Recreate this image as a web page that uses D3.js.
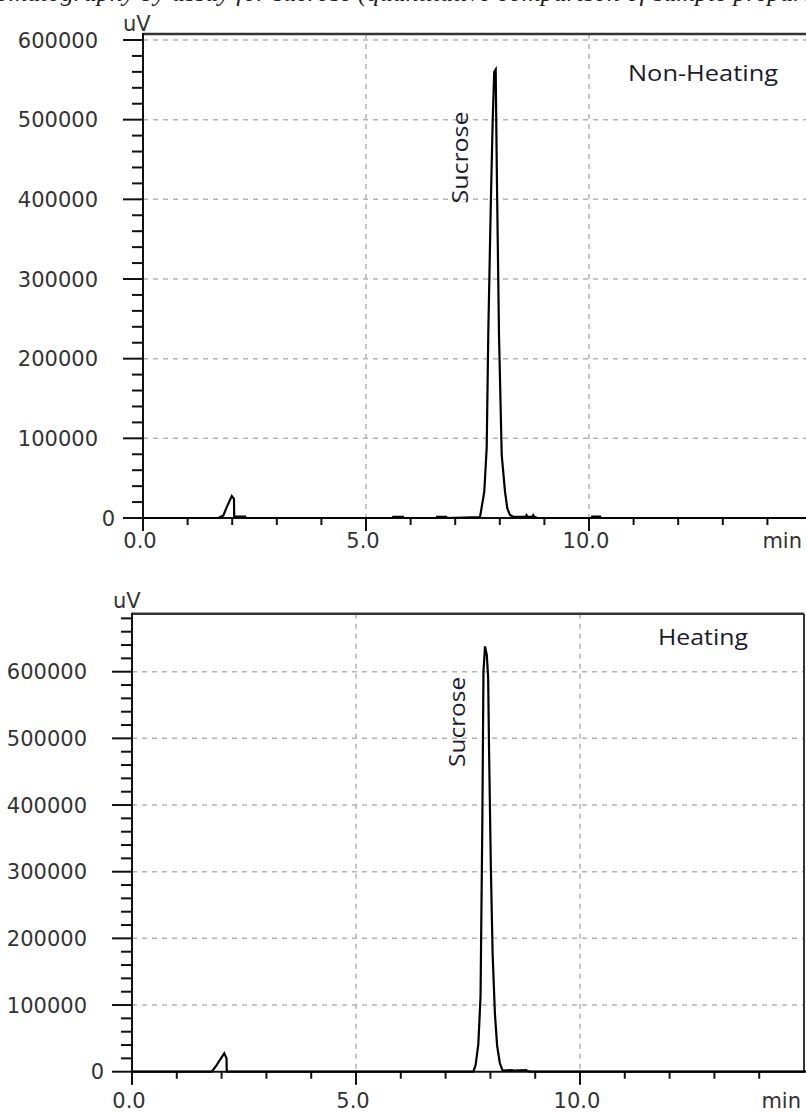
<!DOCTYPE html>
<html>
<head>
<meta charset="utf-8">
<script src="https://cdn.jsdelivr.net/npm/d3@7"></script>
<style>
  body { margin: 0; background: #fff; }
  svg { display: block; }
</style>
</head>
<body>
<div id="chart"></div>
<script>
//Axis ticks and labels
var xMajorTicks = [0, 5, 10];
var xTickLabels = ["0.0", "5.0", "10.0"];
var xMinorTicks = [1, 2, 3, 4, 6, 7, 8, 9, 11, 12, 13, 14];
var yMajorTicks = [0, 100000, 200000, 300000, 400000, 500000, 600000];
var yTickLabels = ["0", "100000", "200000", "300000", "400000", "500000", "600000"];
var yMinorStep = 20000;

//Non-heating chromatogram (time in min, signal in uV)
var nonHeatingTime = [0, 1.69, 1.80, 1.88, 1.99, 2.04, 2.045, 2.29, 2.30,
  5.60, 5.61, 5.83, 5.84, 6.58, 6.59, 6.80, 6.81,
  7.556, 7.652, 7.706, 7.742, 7.796, 7.841, 7.875, 7.908, 7.915, 7.937, 7.982,
  8.043, 8.117, 8.168, 8.229, 8.30, 8.58, 8.60, 8.62, 8.73, 8.75, 8.77, 8.85,
  10.06, 10.07, 10.25, 10.26, 15.2];
var nonHeatingSignal = [0, 0, 3000, 14000, 27600, 24000, 1800, 1800, 0,
  0, 1500, 1500, 0, 0, 1500, 1500, 0,
  1000, 33000, 88000, 232000, 388000, 500000, 560000, 563000, 525000, 418000, 230000,
  79000, 33000, 12000, 3700, 1500, 1500, 3500, 1500, 1500, 3500, 1500, 0,
  0, 1800, 1800, 0, 0];

//Heating chromatogram (time in min, signal in uV)
var heatingTime = [0, 1.78, 1.89, 1.96, 2.06, 2.11, 2.115,
  7.62, 7.67, 7.73, 7.78, 7.82, 7.845, 7.88, 7.92, 7.95, 7.97, 8.01, 8.05, 8.10,
  8.15, 8.21, 8.27, 8.30, 8.49, 8.51, 8.80, 8.82, 8.90, 15.2];
var heatingSignal = [0, 0, 10000, 17500, 27600, 20000, 0,
  0, 10000, 41000, 113000, 375000, 600000, 638000, 625000, 590000, 483000, 307000, 176000, 88000,
  39000, 13000, 2000, 1500, 2500, 1500, 2500, 1000, 0, 0];

//Panel layout
var panels = [
  {time: nonHeatingTime, signal: nonHeatingSignal, title: "Non-Heating",
   left: 143, right: 812, zero: 518, top600: 40, frameTop: 607500, labelY: 548,
   titleX: 628, titleY: 81, titleLen: 150, sucroseT: 7.29, sucroseV: 452500, sucroseLen: 92,
   uvX: 123, uvY: 31, minX: 802, frameRight: false},
  {time: heatingTime, signal: heatingSignal, title: "Heating",
   left: 132, right: 804, zero: 1071.7, top600: 671.7, frameTop: 687000, labelY: 1108,
   titleX: 658, titleY: 645, titleLen: 90, sucroseT: 7.43, sucroseV: 524700, sucroseLen: 90,
   uvX: 113, uvY: 608, minX: 801, frameRight: true}
];

var w = 806;
var h = 1112;

var svg = d3.select("#chart")
  .append("svg")
  .attr("width", w)
  .attr("height", h);

//Cropped caption line from the page above, only its lower edge shows
svg.append("text")
  .attr("x", -38)
  .attr("y", 1)
  .attr("font-family", "Liberation Serif")
  .attr("font-style", "italic")
  .attr("font-size", 26)
  .attr("fill", "#222")
  .text("chromatography by assay for sucrose (quantitative comparison of sample preparation, respectively),");

var axisFont = "DejaVu Sans";
var labelFont = "Open Sans";

panels.forEach(function(p) {
  var x = d3.scaleLinear().domain([0, 15]).range([p.left, p.right]);
  var y = d3.scaleLinear().domain([0, 600000]).range([p.zero, p.top600]);
  var g = svg.append("g");
  var topY = y(p.frameTop);

  //Grid
  g.selectAll(".hgrid")
    .data(yMajorTicks.slice(1))
    .enter()
    .append("line")
    .attr("x1", p.left).attr("x2", p.right)
    .attr("y1", function(d) { return y(d); })
    .attr("y2", function(d) { return y(d); })
    .attr("stroke", "#b4b4b4")
    .attr("stroke-width", 1.5)
    .attr("stroke-dasharray", "5,5");

  g.selectAll(".vgrid")
    .data([5, 10])
    .enter()
    .append("line")
    .attr("x1", function(d) { return x(d); })
    .attr("x2", function(d) { return x(d); })
    .attr("y1", topY).attr("y2", p.zero)
    .attr("stroke", "#b4b4b4")
    .attr("stroke-width", 1.5)
    .attr("stroke-dasharray", "5,5");

  //Frame
  g.append("line")
    .attr("x1", p.left).attr("x2", p.right)
    .attr("y1", topY).attr("y2", topY)
    .attr("stroke", "#333").attr("stroke-width", 2.5);
  if (p.frameRight) {
    g.append("line")
      .attr("x1", p.right).attr("x2", p.right)
      .attr("y1", topY).attr("y2", p.zero)
      .attr("stroke", "#333").attr("stroke-width", 2);
  }

  //Y axis with minor ticks
  g.append("line")
    .attr("x1", p.left).attr("x2", p.left)
    .attr("y1", topY - 1).attr("y2", p.zero + 13)
    .attr("stroke", "#111").attr("stroke-width", 2);

  var minorY = d3.range(0, p.frameTop, yMinorStep).filter(function(d) {
    return yMajorTicks.indexOf(d) < 0;
  });
  g.selectAll(".yminor")
    .data(minorY)
    .enter()
    .append("line")
    .attr("x1", p.left - 11).attr("x2", p.left)
    .attr("y1", function(d) { return y(d); })
    .attr("y2", function(d) { return y(d); })
    .attr("stroke", "#111").attr("stroke-width", 2);

  g.selectAll(".ymajor")
    .data(yMajorTicks)
    .enter()
    .append("line")
    .attr("x1", p.left - 20).attr("x2", p.left)
    .attr("y1", function(d) { return y(d); })
    .attr("y2", function(d) { return y(d); })
    .attr("stroke", "#111").attr("stroke-width", 2);

  g.selectAll(".ylabel")
    .data(yMajorTicks)
    .enter()
    .append("text")
    .attr("x", function(d) { return d == 0 ? p.left - 28 : p.left - 45; })
    .attr("y", function(d) { return y(d); })
    .attr("dy", "0.36em")
    .attr("text-anchor", "end")
    .attr("font-family", axisFont)
    .attr("font-size", 21)
    .attr("fill", "#333")
    .text(function(d, i) { return yTickLabels[i]; });

  //X axis
  g.append("line")
    .attr("x1", p.left).attr("x2", p.right)
    .attr("y1", p.zero).attr("y2", p.zero)
    .attr("stroke", "#111").attr("stroke-width", 2);

  g.selectAll(".xminor")
    .data(xMinorTicks)
    .enter()
    .append("line")
    .attr("x1", function(d) { return x(d); })
    .attr("x2", function(d) { return x(d); })
    .attr("y1", p.zero).attr("y2", p.zero + 7)
    .attr("stroke", "#111").attr("stroke-width", 2);

  g.selectAll(".xmajor")
    .data(xMajorTicks)
    .enter()
    .append("line")
    .attr("x1", function(d) { return x(d); })
    .attr("x2", function(d) { return x(d); })
    .attr("y1", p.zero).attr("y2", p.zero + 13)
    .attr("stroke", "#111").attr("stroke-width", 2);

  g.selectAll(".xlabel")
    .data(xMajorTicks)
    .enter()
    .append("text")
    .attr("x", function(d) { return x(d) - 3; })
    .attr("y", p.labelY)
    .attr("text-anchor", "middle")
    .attr("font-family", axisFont)
    .attr("font-size", 21)
    .attr("fill", "#333")
    .text(function(d, i) { return xTickLabels[i]; });

  g.append("text")
    .attr("x", p.minX)
    .attr("y", p.labelY)
    .attr("text-anchor", "end")
    .attr("font-family", axisFont)
    .attr("font-size", 21)
    .attr("fill", "#333")
    .text("min");

  g.append("text")
    .attr("x", p.uvX)
    .attr("y", p.uvY)
    .attr("font-family", axisFont)
    .attr("font-size", 21)
    .attr("fill", "#333")
    .text("uV");

  //Trace
  var pts = p.time.map(function(t, i) { return [t, p.signal[i]]; });
  var line = d3.line()
    .x(function(d) { return x(d[0]); })
    .y(function(d) { return y(d[1]); });
  g.append("path")
    .datum(pts)
    .attr("d", line)
    .attr("fill", "none")
    .attr("stroke", "#000")
    .attr("stroke-width", 2.2)
    .attr("stroke-linejoin", "miter");

  //Annotations
  g.append("text")
    .attr("x", p.titleX)
    .attr("y", p.titleY)
    .attr("font-family", labelFont)
    .attr("font-size", 21)
    .attr("fill", "#1b1b2b")
    .attr("textLength", p.titleLen)
    .attr("lengthAdjust", "spacingAndGlyphs")
    .text(p.title);

  g.append("text")
    .attr("transform", "translate(" + x(p.sucroseT) + "," + y(p.sucroseV) + ") rotate(-90)")
    .attr("text-anchor", "middle")
    .attr("font-family", labelFont)
    .attr("font-size", 21)
    .attr("fill", "#1b1b2b")
    .attr("textLength", p.sucroseLen)
    .attr("lengthAdjust", "spacingAndGlyphs")
    .text("Sucrose");
});
</script>
</body>
</html>
